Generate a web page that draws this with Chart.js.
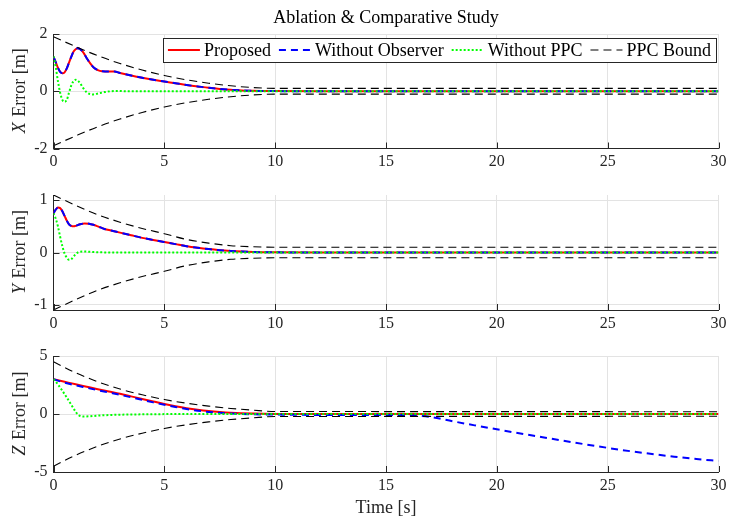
<!DOCTYPE html>
<html>
<head>
<meta charset="utf-8">
<title>Ablation &amp; Comparative Study</title>
<script src="https://cdn.jsdelivr.net/npm/chart.js@4.4.1/dist/chart.umd.min.js"></script>
<style>
  html, body { margin: 0; padding: 0; background: #ffffff; }
  #fig { position: relative; width: 729px; height: 521px; background: #ffffff; overflow: hidden; }
  .panel { position: absolute; left: 0; width: 729px; }
  canvas { display: block; }
</style>
</head>
<body>
<div id="fig">
  <div class="panel" style="top:0px;height:175px"><canvas id="panelX" width="729" height="175"></canvas></div>
  <div class="panel" style="top:175px;height:165px"><canvas id="panelY" width="729" height="165"></canvas></div>
  <div class="panel" style="top:340px;height:181px"><canvas id="panelZ" width="729" height="181"></canvas></div>
</div>
<script>
// ---------- data ----------
const seriesNames = ['Proposed', 'Without Observer', 'Without PPC', 'PPC Bound'];
const timeTicks = [0, 5, 10, 15, 20, 25, 30];
const xTicks = [-2, 0, 2];
const yTicks = [-1, 0, 1];
const zTicks = [-5, 0, 5];

// X error
const xTime     = [0, 0.1, 0.2, 0.3, 0.4, 0.5, 0.6, 0.7, 0.8, 0.9, 1.0, 1.1, 1.2, 1.35, 1.5, 1.65, 1.8, 2.0, 2.2, 2.5, 2.75, 3.0, 3.5, 4.0, 4.5, 5.0, 5.5, 6.0, 6.5, 7.0, 7.5, 8.0, 8.5, 9.0, 10, 12, 30];
const xProposed = [1.2, 1.02, 0.82, 0.68, 0.63, 0.66, 0.8, 1.0, 1.2, 1.38, 1.47, 1.5, 1.47, 1.35, 1.15, 0.98, 0.84, 0.74, 0.7, 0.69, 0.69, 0.64, 0.55, 0.47, 0.4, 0.34, 0.28, 0.22, 0.17, 0.12, 0.08, 0.05, 0.03, 0.015, 0.005, 0, 0];
const xNoObs    = [1.2, 1.02, 0.82, 0.68, 0.63, 0.66, 0.8, 1.0, 1.2, 1.38, 1.47, 1.5, 1.47, 1.35, 1.15, 0.98, 0.84, 0.74, 0.7, 0.69, 0.69, 0.64, 0.55, 0.47, 0.4, 0.34, 0.28, 0.22, 0.17, 0.12, 0.08, 0.05, 0.03, 0.015, 0.005, 0, 0];
const xTimePPC  = [0, 0.1, 0.2, 0.3, 0.4, 0.5, 0.6, 0.7, 0.8, 0.9, 1.0, 1.1, 1.2, 1.35, 1.5, 1.65, 1.8, 2.0, 2.3, 2.6, 2.9, 3.3, 4, 30];
const xNoPPC    = [1.22, 0.85, 0.35, -0.05, -0.3, -0.37, -0.3, -0.05, 0.2, 0.35, 0.4, 0.37, 0.28, 0.1, -0.04, -0.1, -0.11, -0.08, -0.03, 0.0, 0.01, 0.0, 0, 0];
const boundTime = [0, 1, 2, 3, 4, 5, 6, 7, 8, 9, 10, 30];
const xBound    = [1.9, 1.56, 1.24, 0.97, 0.74, 0.55, 0.4, 0.28, 0.19, 0.13, 0.1, 0.1];

// Y error
const yTime     = [0, 0.1, 0.2, 0.3, 0.4, 0.5, 0.6, 0.7, 0.8, 0.9, 1.0, 1.2, 1.4, 1.6, 1.8, 2.0, 2.3, 2.6, 3.0, 3.5, 4.0, 4.5, 5.0, 5.5, 6.0, 6.5, 7.0, 7.5, 8.0, 8.5, 9.0, 10, 12, 30];
const yProposed = [0.75, 0.82, 0.86, 0.85, 0.79, 0.7, 0.61, 0.54, 0.51, 0.5, 0.51, 0.54, 0.555, 0.55, 0.53, 0.5, 0.45, 0.42, 0.38, 0.33, 0.28, 0.24, 0.2, 0.16, 0.12, 0.09, 0.065, 0.045, 0.03, 0.018, 0.01, 0.003, 0, 0];
const yNoObs    = [0.75, 0.82, 0.86, 0.85, 0.79, 0.7, 0.61, 0.54, 0.51, 0.5, 0.51, 0.54, 0.555, 0.55, 0.53, 0.5, 0.45, 0.42, 0.38, 0.33, 0.28, 0.24, 0.2, 0.16, 0.12, 0.09, 0.065, 0.045, 0.03, 0.018, 0.01, 0.003, 0, 0];
const yTimePPC  = [0, 0.1, 0.2, 0.3, 0.4, 0.5, 0.6, 0.7, 0.8, 0.9, 1.0, 1.1, 1.3, 1.6, 2.0, 3, 30];
const yNoPPC    = [0.75, 0.65, 0.5, 0.3, 0.12, -0.02, -0.1, -0.14, -0.13, -0.08, -0.03, 0.0, 0.02, 0.015, 0.005, 0, 0];
const yBound    = [1.1, 0.9, 0.72, 0.58, 0.46, 0.36, 0.25, 0.18, 0.13, 0.11, 0.1, 0.1];

// Z error
const zTime     = [0, 0.5, 1, 1.5, 2, 2.5, 3, 3.5, 4, 4.5, 5, 5.5, 6, 6.5, 7, 7.5, 8, 9, 10, 12, 30];
const zProposed = [3.0, 2.78, 2.56, 2.35, 2.14, 1.94, 1.74, 1.52, 1.3, 1.08, 0.86, 0.67, 0.5, 0.36, 0.25, 0.17, 0.11, 0.04, 0.01, 0, 0];
const zTimeObs  = [0, 0.5, 1, 1.5, 2, 2.5, 3, 3.5, 4, 4.5, 5, 5.5, 6, 6.5, 7, 7.5, 8, 9, 10, 12, 15, 16, 16.5, 17, 18, 19, 20, 21, 22, 23, 24, 25, 26, 27, 28, 29, 30];
const zNoObs    = [3.0, 2.7, 2.47, 2.26, 2.05, 1.85, 1.65, 1.44, 1.22, 1.0, 0.79, 0.6, 0.43, 0.29, 0.18, 0.1, 0.04, -0.02, -0.05, -0.08, -0.08, -0.1, -0.15, -0.25, -0.62, -0.98, -1.32, -1.66, -1.98, -2.3, -2.62, -2.92, -3.2, -3.45, -3.68, -3.88, -4.05];
const zTimePPC  = [0, 0.2, 0.4, 0.6, 0.8, 1.0, 1.1, 1.2, 1.35, 1.6, 2, 2.5, 3, 4, 5, 6, 30];
const zNoPPC    = [3.0, 2.55, 2.0, 1.42, 0.8, 0.2, -0.05, -0.17, -0.22, -0.2, -0.14, -0.09, -0.06, -0.03, -0.01, 0, 0];
const zBound    = [4.5, 3.55, 2.78, 2.15, 1.66, 1.25, 0.93, 0.68, 0.48, 0.33, 0.22, 0.2];

// ---------- styling ----------
const FONT = "'Liberation Serif', 'Times New Roman', serif";
const TEXT_SIZE = 18;
const TICK_SIZE = 16;
const GRID = '#e3e3e3';
const AXIS = '#262626';
const PLOT_LEFT = 53.5;
const PLOT_RIGHT = 718.5;
const FIG_W = 729;

const pts = (t, v) => t.map((x, i) => ({ x: x, y: v[i] }));
const neg = v => v.map(a => -a);
const al = v => Math.round(v) + 0.5;

function lineSample(ctx, x0, x1, y, style) {
  ctx.save();
  ctx.strokeStyle = style.color;
  ctx.lineWidth = style.width;
  ctx.setLineDash(style.dash);
  ctx.beginPath();
  ctx.moveTo(x0, y);
  ctx.lineTo(x1, y);
  ctx.stroke();
  ctx.restore();
}

const STYLES = [
  { color: '#ff0000', width: 2, dash: [] },
  { color: '#0000ff', width: 2, dash: [7, 5] },
  { color: '#00ff00', width: 2, dash: [2, 2] },
  { color: '#000000', width: 1.1, dash: [8, 5] }
];

// axis decorations: inward tick marks, y-axis label, legend, title, time label
const decor = {
  id: 'decor',
  afterDraw(chart, args, opts) {
    const ctx = chart.ctx;
    const a = chart.chartArea;
    const xs = chart.scales.x, ys = chart.scales.y;
    ctx.save();
    ctx.strokeStyle = AXIS;
    ctx.lineWidth = 1;
    ctx.setLineDash([]);
    ctx.beginPath();
    timeTicks.forEach(v => {
      const px = al(xs.getPixelForValue(v));
      ctx.moveTo(px, a.bottom);
      ctx.lineTo(px, a.bottom - 6);
    });
    opts.yTicks.forEach(v => {
      const py = al(ys.getPixelForValue(v));
      ctx.moveTo(a.left, py);
      ctx.lineTo(a.left + 6, py);
    });
    ctx.stroke();

    // rotated y label with italic axis letter
    const cy = (a.top + a.bottom) / 2;
    ctx.translate(20, cy);
    ctx.rotate(-Math.PI / 2);
    ctx.fillStyle = AXIS;
    ctx.textBaseline = 'middle';
    ctx.textAlign = 'left';
    const fi = 'italic ' + TEXT_SIZE + 'px ' + FONT, fn = TEXT_SIZE + 'px ' + FONT;
    ctx.font = fi;
    const w1 = ctx.measureText(opts.letter).width;
    ctx.font = fn;
    const rest = ' Error [m]';
    const w2 = ctx.measureText(rest).width;
    let sx = -(w1 + w2) / 2;
    ctx.font = fi;
    ctx.fillText(opts.letter, sx, 0);
    ctx.font = fn;
    ctx.fillText(rest, sx + w1 + 1, 0);
    ctx.restore();

    if (opts.title) {
      ctx.save();
      ctx.fillStyle = '#000';
      ctx.font = TEXT_SIZE + 'px ' + FONT;
      ctx.textAlign = 'center';
      ctx.textBaseline = 'middle';
      ctx.fillText(opts.title, (a.left + a.right) / 2, 18);
      ctx.restore();
    }

    if (opts.legend) {
      ctx.save();
      ctx.font = TEXT_SIZE + 'px ' + FONT;
      const sample = 32, gapT = 4, gapI = 8, pad = 5;
      let total = pad;
      const widths = seriesNames.map(n => ctx.measureText(n).width);
      widths.forEach((w, i) => { total += sample + gapT + w + (i < widths.length - 1 ? gapI : 0); });
      total += pad;
      const right = 716, top = 38, h = 24;
      const left = right - total;
      ctx.fillStyle = '#ffffff';
      ctx.fillRect(left, top, total, h);
      ctx.strokeStyle = AXIS;
      ctx.lineWidth = 1;
      ctx.strokeRect(al(left), al(top), Math.round(total), h);
      const my = top + h / 2;
      let x = left + pad;
      seriesNames.forEach((n, i) => {
        lineSample(ctx, x, x + sample, my, STYLES[i]);
        x += sample + gapT;
        ctx.fillStyle = '#000';
        ctx.textBaseline = 'middle';
        ctx.textAlign = 'left';
        ctx.fillText(n, x, my + 1);
        x += widths[i] + gapI;
      });
      ctx.restore();
    }

    if (opts.xlabel) {
      ctx.save();
      ctx.fillStyle = AXIS;
      ctx.font = TEXT_SIZE + 'px ' + FONT;
      ctx.textAlign = 'center';
      ctx.textBaseline = 'middle';
      ctx.fillText(opts.xlabel, (a.left + a.right) / 2, chart.height - 13);
      ctx.restore();
    }
  }
};

function makePanel(id, p) {
  const ds = (label, t, v, i, order) => ({
    label: label,
    data: pts(t, v),
    borderColor: STYLES[i].color,
    borderWidth: STYLES[i].width,
    borderDash: STYLES[i].dash,
    order: order
  });
  return new Chart(document.getElementById(id), {
    type: 'line',
    data: {
      datasets: [
        ds(seriesNames[0], p.tP, p.proposed, 0, 3),
        ds(seriesNames[1], p.tO, p.noObs, 1, 2),
        ds(seriesNames[2], p.tN, p.noPPC, 2, 1),
        ds(seriesNames[3], boundTime, p.bound, 3, 0),
        ds(seriesNames[3] + ' (lower)', boundTime, neg(p.bound), 3, 0)
      ]
    },
    options: {
      responsive: false,
      animation: false,
      devicePixelRatio: 1,
      parsing: true,
      layout: { padding: { left: 0, right: FIG_W - PLOT_RIGHT, top: p.padTop, bottom: 0 } },
      elements: {
        point: { radius: 0 },
        line: { cubicInterpolationMode: 'monotone', borderCapStyle: 'butt', borderJoinStyle: 'round' }
      },
      plugins: {
        legend: { display: false },
        tooltip: { enabled: false },
        title: { display: false },
        decor: p.decor
      },
      scales: {
        x: {
          type: 'linear', min: 0, max: 30,
          afterBuildTicks: s => { s.ticks = timeTicks.map(v => ({ value: v })); },
          afterFit: s => { s.height = p.xAxisH; s.paddingLeft = 0; s.paddingRight = 0; },
          grid: { color: GRID, lineWidth: 1, drawTicks: false },
          border: { display: true, color: AXIS, width: 1 },
          ticks: { font: { family: FONT, size: TICK_SIZE }, color: AXIS, padding: 4, maxRotation: 0, autoSkip: false }
        },
        y: {
          type: 'linear', min: p.ymin, max: p.ymax,
          afterBuildTicks: s => { s.ticks = p.ticks.map(v => ({ value: v })); },
          afterFit: s => { s.width = PLOT_LEFT; s.paddingTop = 0; s.paddingBottom = 0; },
          grid: { color: GRID, lineWidth: 1, drawTicks: false },
          border: { display: true, color: AXIS, width: 1 },
          ticks: { font: { family: FONT, size: TICK_SIZE }, color: AXIS, padding: 6, autoSkip: false }
        }
      }
    },
    plugins: [decor]
  });
}

makePanel('panelX', {
  tP: xTime, proposed: xProposed, tO: xTime, noObs: xNoObs, tN: xTimePPC, noPPC: xNoPPC, bound: xBound,
  ymin: -2, ymax: 2, ticks: xTicks, padTop: 34, xAxisH: 26.5,
  decor: { letter: 'X', yTicks: xTicks, title: 'Ablation & Comparative Study', legend: true }
});
makePanel('panelY', {
  tP: yTime, proposed: yProposed, tO: yTime, noObs: yNoObs, tN: yTimePPC, noPPC: yNoPPC, bound: yBound,
  ymin: -1.1, ymax: 1.1, ticks: yTicks, padTop: 20, xAxisH: 30,
  decor: { letter: 'Y', yTicks: yTicks }
});
makePanel('panelZ', {
  tP: zTime, proposed: zProposed, tO: zTimeObs, noObs: zNoObs, tN: zTimePPC, noPPC: zNoPPC, bound: zBound,
  ymin: -5, ymax: 5, ticks: zTicks, padTop: 16, xAxisH: 49,
  decor: { letter: 'Z', yTicks: zTicks, xlabel: 'Time [s]' }
});
</script>
</body>
</html>
